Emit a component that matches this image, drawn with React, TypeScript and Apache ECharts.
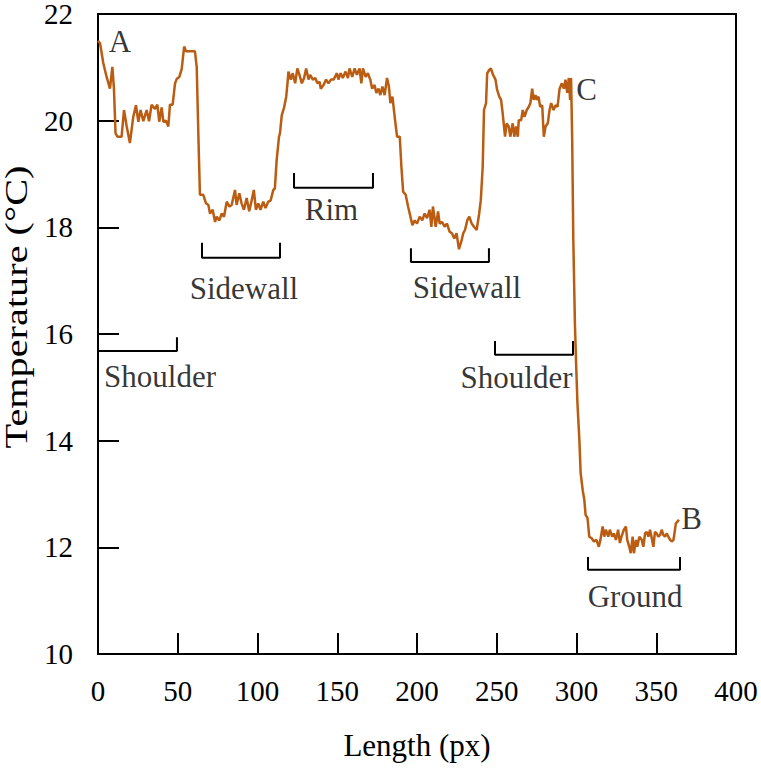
import React, { useEffect, useRef } from "react";
import * as echarts from "echarts";

// Profile: length along the line (px) and temperature (°C)
const lengthPx: number[] = [
  0, 1.3, 3.3, 5.4, 7.5, 9, 10, 11, 12.2, 14.8, 16.3, 18, 20, 22.1, 23.8, 25.3, 26.7, 28.4, 30.5, 32,
  33.6, 35.7, 37.2, 38.4, 39.9, 41, 42.6, 44.1, 45.1, 46.8, 48.3, 49.3, 51, 52.5, 54, 55.2, 60.8, 61.9, 62.9, 63.9,
  66, 67.7, 69.2, 70.2, 71.9, 73.4, 74.4, 76.1, 77.6, 79, 80.7, 82.4, 83.8, 85.9, 86.9, 88.6, 90, 91.5, 93.2, 94.8,
  96.3, 97.7, 99, 100.5, 101.9, 103.6, 105, 106.7, 108.2, 109.9, 110.9, 112, 113.5, 114.1, 115.2, 116.7, 118, 118.8, 119.4, 120.9,
  122.1, 123.6, 125, 126.3, 127.8, 129.2, 130.5, 132, 133, 134.7, 136.2, 137.6, 138.9, 139.7, 141.4, 143, 144.5, 146, 147.7, 149.8,
  150.7, 152.1, 153.5, 155.2, 156.7, 157.7, 159.4, 160.9, 162.3, 164, 165.1, 166.1, 167.8, 169.2, 170.7, 171.9, 173.4, 174.5, 175.9, 177,
  178.3, 179.7, 181.2, 182.4, 183.3, 184.6, 186, 187.5, 189.2, 190.2, 191.3, 192.9, 194.4, 195.9, 197.1, 198.6, 200, 201.7, 203.3, 204.8,
  206.3, 207.9, 209, 210, 211.7, 213.2, 214.2, 215.8, 217.3, 218.8, 220.4, 221.9, 223.4, 224.8, 226.3, 228, 229, 230.1, 231.6, 232.8,
  234.3, 235.7, 237.4, 239, 240, 241.2, 242, 243.3, 244, 245.3, 246.3, 247.7, 249.2, 250.2, 251.6, 252.7, 253.7, 255.2, 256.2, 257.5,
  258.5, 260, 261, 262.1, 263.2, 263.8, 265.3, 266.3, 267.4, 268.8, 270.1, 271.1, 272.2, 273.2, 274.3, 275.1, 276.2, 277.2, 278.5, 279.5,
  280.6, 282, 283.1, 284.1, 285.6, 286.9, 288.1, 289.4, 290.8, 292.1, 293.1, 294.2, 295.2, 296, 296.6, 297.3, 298, 299, 299.8, 300.6,
  301.3, 301.8, 302.6, 303.9, 304.9, 305.7, 306.9, 308, 309.5, 310.9, 312.5, 314, 315, 316.4, 317.4, 318.4, 319.9, 320.9, 322.4, 323.4,
  324.7, 326.1, 327.2, 328.2, 329.7, 331, 331.8, 333.1, 334, 335.2, 336, 337.3, 338.1, 339.4, 340.9, 341.9, 343, 344, 345.1, 346.1,
  347.2, 348.2, 349.2, 350.3, 351.3, 352.4, 353.4, 354.5, 355.5, 356.6, 357.6, 358.7, 359.7, 360.8, 361.4, 362.3, 363.3, 364.2,
];

const temperature: number[] = [
  21.5, 21.45, 21.08, 20.82, 20.6, 21.01, 20.6, 19.76, 19.7, 19.7, 20.2, 19.89, 19.58, 20.07, 20.29, 19.98, 20.2, 19.99, 20.2, 19.99,
  20.3, 20.22, 20.3, 19.98, 20.25, 19.98, 20.0, 19.89, 20.3, 20.3, 20.7, 20.78, 20.82, 20.97, 21.39, 21.3, 21.3, 21.0, 19.76, 18.61,
  18.61, 18.45, 18.42, 18.26, 18.33, 18.1, 18.2, 18.13, 18.26, 18.2, 18.48, 18.39, 18.42, 18.7, 18.42, 18.64, 18.45, 18.33, 18.55, 18.3,
  18.5, 18.7, 18.33, 18.45, 18.33, 18.48, 18.36, 18.48, 18.5, 18.7, 18.73, 19.26, 19.7, 19.76, 20.1, 20.25, 20.45, 20.7, 20.92, 20.77,
  20.89, 20.7, 20.98, 20.86, 20.7, 20.8, 20.98, 20.77, 20.86, 20.77, 20.8, 20.7, 20.73, 20.6, 20.67, 20.77, 20.7, 20.77, 20.77, 20.89,
  20.77, 20.89, 20.8, 20.92, 20.8, 20.98, 20.82, 20.98, 20.86, 20.98, 20.7, 20.98, 20.82, 20.89, 20.77, 20.6, 20.67, 20.52, 20.6, 20.48,
  20.64, 20.48, 20.8, 20.64, 20.33, 20.45, 20.07, 19.7, 19.7, 19.14, 18.67, 18.61, 18.39, 18.2, 18.04, 18.13, 18.07, 18.2, 18.13, 18.26,
  18.17, 18.33, 18.01, 18.39, 18.01, 18.3, 18.07, 18.1, 18.01, 18.07, 17.92, 17.89, 17.79, 17.89, 17.59, 17.76, 17.89, 17.95, 18.14, 18.2,
  18.07, 18.01, 17.95, 18.26, 18.51, 19.14, 20.2, 20.33, 20.89, 20.95, 20.98, 20.86, 20.77, 20.58, 20.45, 20.39, 20.14, 19.7, 19.95, 19.89,
  19.7, 19.95, 19.7, 19.89, 19.7, 20.01, 20.01, 20.2, 20.07, 20.2, 20.26, 20.33, 20.6, 20.39, 20.48, 20.39, 20.45, 20.26, 20.29, 19.7,
  19.89, 19.95, 20.2, 20.33, 20.2, 20.29, 20.26, 20.6, 20.7, 20.6, 20.77, 20.52, 20.8, 20.39, 20.8, 19.64, 17.76, 16.2, 15.4, 14.7,
  14.3, 14.01, 13.39, 13.07, 12.89, 12.61, 12.55, 12.2, 12.17, 12.11, 12.14, 12.01, 12.14, 12.39, 12.2, 12.33, 12.2, 12.33, 12.2, 12.26,
  12.14, 12.33, 12.08, 12.2, 12.33, 12.39, 12.14, 12.01, 11.89, 12.2, 11.89, 12.14, 12.01, 12.2, 12.14, 12.01, 12.26, 12.29, 12.2, 12.33,
  12.17, 12.01, 12.29, 12.26, 12.2, 12.23, 12.33, 12.23, 12.2, 12.26, 12.2, 12.14, 12.11, 12.14, 12.26, 12.45, 12.48, 12.52,
];

// Region brackets: [start, end] in length, bracket baseline and tick top in °C
const bracketNames: string[] = ["Shoulder", "Sidewall", "Rim", "Sidewall", "Shoulder", "Ground"];
const bracketStart: number[] = [0, 65.2, 122.9, 196.2, 248.9, 307.2];
const bracketEnd: number[] = [49.5, 114.1, 172.4, 245.1, 297.8, 364.9];
const bracketBase: number[] = [15.68, 17.43, 18.74, 17.35, 15.61, 11.58];
const bracketTop: number[] = [15.94, 17.71, 19.02, 17.61, 15.87, 11.82];
const bracketLabelX: number[] = [38.9, 91.5, 146.4, 231.3, 262.4, 336.7];
const bracketLabelY: number[] = [15.21, 16.86, 18.34, 16.88, 15.18, 11.07];

// Point markers
const pointNames: string[] = ["A", "C", "B"];
const pointX: number[] = [13.8, 306.3, 372.1];
const pointY: number[] = [21.48, 20.59, 12.55];

const xTicks = { min: 0, max: 400, interval: 50 };
const yTicks = { min: 10, max: 22, interval: 2 };

const FONT = "'Liberation Serif', 'Times New Roman', serif";
const LINE_COLOR = "#BA5C12";

export default function App() {
  const ref = useRef<HTMLDivElement>(null);

  useEffect(() => {
    if (!ref.current) return;
    const chart = echarts.init(ref.current, undefined, { renderer: "svg" });

    const profile = lengthPx.map((x, i) => [x, temperature[i]]);

    const bracketSeries = bracketNames.map((name, i) => ({
      type: "line" as const,
      name: "bracket-" + i,
      data: [
        [bracketStart[i], bracketTop[i]],
        [bracketStart[i], bracketBase[i]],
        [bracketEnd[i], bracketBase[i]],
        [bracketEnd[i], bracketTop[i]],
      ],
      showSymbol: false,
      symbol: "none",
      lineStyle: { color: "#000", width: 2 },
      silent: true,
      z: 3,
    }));

    const labelData = [
      ...bracketNames.map((n, i) => ({ value: [bracketLabelX[i], bracketLabelY[i]], name: n })),
      ...pointNames.map((n, i) => ({ value: [pointX[i], pointY[i]], name: n })),
    ];

    chart.setOption({
      animation: false,
      grid: {
        left: 98,
        right: 25,
        top: 14,
        bottom: 115,
        outerBoundsMode: "none",
        containLabel: false,
        show: true,
        borderColor: "#000",
        borderWidth: 2,
        backgroundColor: "transparent",
      },
      graphic: [
        {
          type: "text",
          x: 17,
          y: 307,
          rotation: Math.PI / 2,
          scaleX: 1.3,
          style: {
            text: "Temperature (°C)",
            fontFamily: FONT,
            fontSize: 31,
            fill: "#000",
            align: "center",
            verticalAlign: "middle",
          },
        },
      ],
      xAxis: {
        type: "value",
        min: xTicks.min,
        max: xTicks.max,
        interval: xTicks.interval,
        name: "Length (px)",
        nameLocation: "middle",
        nameGap: 76,
        nameTextStyle: { fontFamily: FONT, fontSize: 31, color: "#000" },
        axisLine: { show: true, lineStyle: { color: "#000", width: 2 } },
        axisTick: { show: true, inside: true, length: 21, lineStyle: { color: "#000", width: 2 } },
        axisLabel: { fontFamily: FONT, fontSize: 29, color: "#000", margin: 22 },
        splitLine: { show: false },
      },
      yAxis: {
        type: "value",
        min: yTicks.min,
        max: yTicks.max,
        interval: yTicks.interval,
        axisLine: { show: true, lineStyle: { color: "#000", width: 2 } },
        axisTick: { show: true, inside: true, length: 21, lineStyle: { color: "#000", width: 2 } },
        axisLabel: { fontFamily: FONT, fontSize: 29, lineHeight: 22, color: "#000", margin: 25 },
        splitLine: { show: false },
      },
      series: [
        {
          type: "line",
          name: "Temperature",
          data: profile,
          showSymbol: false,
          symbol: "none",
          lineStyle: { color: LINE_COLOR, width: 2.5 },
          z: 4,
        },
        ...bracketSeries,
        {
          type: "scatter",
          name: "labels",
          data: labelData,
          symbolSize: 0,
          silent: true,
          label: {
            show: true,
            position: "inside",
            formatter: (p: any) => p.name,
            fontFamily: FONT,
            fontSize: 31,
            color: "#000",
            textBorderWidth: 0,
            align: "center",
            verticalAlign: "middle",
          },
          z: 5,
        },
      ],
    });

    return () => chart.dispose();
  }, []);

  return (
    <div
      ref={ref}
      style={{ position: "fixed", left: 0, top: 0, width: 761, height: 769, background: "#fff" }}
    />
  );
}
